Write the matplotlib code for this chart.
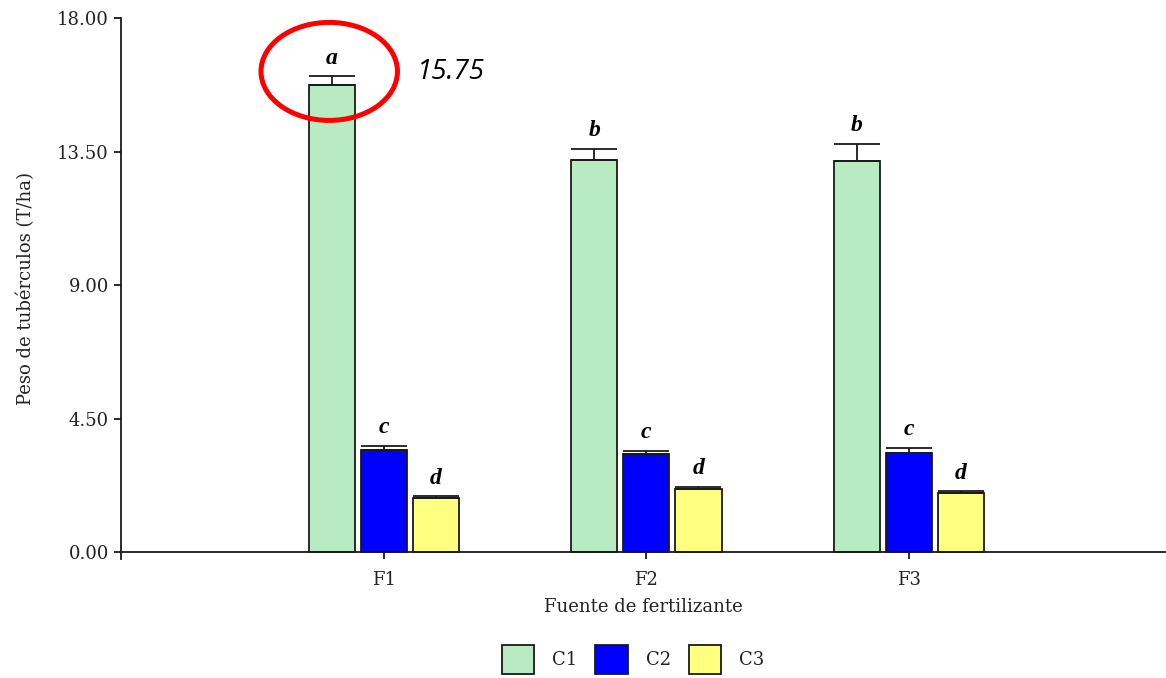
import numpy as np
import matplotlib
matplotlib.use("Agg")
import matplotlib.pyplot as plt
from matplotlib.patches import Ellipse, Patch

# Data: tuber weight (T/ha) by fertilizer source and treatment
sources = ["F1", "F2", "F3"]
treatments = ["C1", "C2", "C3"]
c1_values = [15.75, 13.22, 13.19]
c2_values = [3.45, 3.32, 3.36]
c3_values = [1.84, 2.14, 2.00]
c1_errors = [0.28, 0.38, 0.58]
c2_errors = [0.14, 0.11, 0.16]
c3_errors = [0.06, 0.07, 0.07]
c1_letters = ["a", "b", "b"]
c2_letters = ["c", "c", "c"]
c3_letters = ["d", "d", "d"]
highlight_label = "15.75"
y_ticks = [0.0, 4.5, 9.0, 13.5, 18.0]

colors = ["#B9EBC3", "#0000FF", "#FFFF80"]
serif = ["DejaVu Serif"]
letter_font = ["Liberation Serif", "DejaVu Serif"]
ink = "#222222"

plt.rcParams["font.family"] = serif

fig = plt.figure(figsize=(11.66, 6.78), dpi=100)
ax = fig.add_axes([0.1042, 0.1755, 0.8958, 0.7980])

x = np.arange(len(sources))
bar_w = 0.1756
step = 0.1985

series = [
    (c1_values, c1_errors, c1_letters),
    (c2_values, c2_errors, c2_letters),
    (c3_values, c3_errors, c3_letters),
]

for i, (vals, errs, letters) in enumerate(series):
    pos = x + (i - 1) * step
    ax.bar(pos, vals, width=bar_w, color=colors[i], edgecolor="#1a1a1a",
           linewidth=1.3, zorder=2)
    ax.errorbar(pos, vals, yerr=[np.zeros(len(errs)), errs], fmt="none",
                ecolor="#1a1a1a", elinewidth=1.3, capsize=16.5, capthick=1.3,
                zorder=3)
    for p, v, e, lt in zip(pos, vals, errs, letters):
        ax.annotate(lt, xy=(p, v + e), xytext=(0, 9), textcoords="offset points",
                    ha="center", va="baseline", fontsize=17,
                    fontweight="bold", fontstyle="italic", family=letter_font)

# Highlight the top bar with an ellipse and its value
top_x = x[0] - step
ax.add_patch(Ellipse((top_x - 0.01, c1_values[0] + 0.45), width=0.52,
                     height=3.3, fill=False, edgecolor="#FF0000",
                     linewidth=3.6, clip_on=False, zorder=5))
ax.text(top_x + 0.455, c1_values[0] + 0.42, highlight_label, fontsize=20,
        fontstyle="italic", family=["Open Sans", "DejaVu Sans"],
        ha="center", va="center")

ax.set_xlim(-1.0, 2.98)
ax.set_ylim(-0.22, 18)
ax.set_yticks(y_ticks)
ax.set_yticklabels([f"{t:.2f}" for t in y_ticks])
ax.set_xticks(x)
ax.set_xticklabels(sources)

for side in ["top", "right"]:
    ax.spines[side].set_visible(False)
ax.spines["bottom"].set_position(("data", 0))
ax.spines["left"].set_bounds(-0.22, 18)
for side in ["left", "bottom"]:
    ax.spines[side].set_linewidth(1.3)
    ax.spines[side].set_color("#1a1a1a")

ax.tick_params(axis="both", direction="out", length=5, width=1.3,
               labelsize=13, colors="#1a1a1a", labelcolor=ink)
ax.tick_params(axis="y", pad=4)
ax.tick_params(axis="x", pad=8)

ax.set_xlabel("Fuente de fertilizante", fontsize=13, labelpad=7, color=ink)
ax.set_ylabel("Peso de tubérculos (T/ha)", fontsize=13, labelpad=16, color=ink)

handles = [Patch(facecolor=c, edgecolor="#1a1a1a", linewidth=1.3) for c in colors]
leg = fig.legend(handles, treatments, loc="center", bbox_to_anchor=(0.543, 0.027),
                 ncol=3, frameon=False, fontsize=13, handlelength=1.78,
                 handleheight=2.1, handletextpad=1.0, columnspacing=1.0)
for t in leg.get_texts():
    t.set_color(ink)

fig.savefig("out.png", dpi=100)
